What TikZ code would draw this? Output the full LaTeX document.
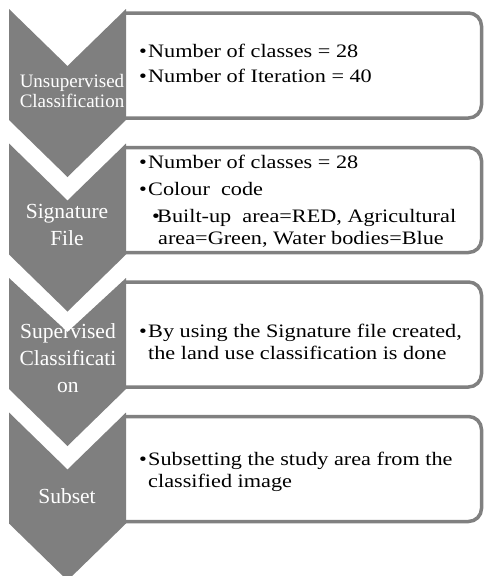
\documentclass[tikz,border=0pt]{standalone}
\usepackage{fontspec}
\setmainfont{Liberation Serif}
\newfontfamily\widefont[FakeStretch=1.17]{Liberation Serif}
\definecolor{chevgray}{RGB}{127,127,127}
\definecolor{framegray}{RGB}{128,128,128}

\begin{document}
\begin{tikzpicture}[x=1pt, y=-1pt,
    chev/.style={fill=chevgray},
    panel/.style={draw=framegray, fill=white, line width=3.5pt, rounded corners=13pt},
    chevtext/.style={text=white, align=center, inner sep=0pt, anchor=north},
    boxtext/.style={anchor=north west, inner sep=0pt, align=left, font=\widefont\fontsize{19}{22}\selectfont},
  ]
    \useasboundingbox (0,0) rectangle (484,576);

    % Panels (right side rounded, left end under the chevrons)
    \draw[panel] (124,13) -- (481.5,13) -- (481.5,118) -- (124,118);
    \draw[panel] (124,147.5) -- (481.5,147.5) -- (481.5,252.5) -- (124,252.5);
    \draw[panel] (124,282) -- (481.5,282) -- (481.5,387) -- (124,387);
    \draw[panel] (124,416.5) -- (481.5,416.5) -- (481.5,521.5) -- (124,521.5);

    % Chevrons
    \fill[chev] (9,9) -- (67.5,66) -- (126,9) -- (126,120) -- (67.5,177) -- (9,120) -- cycle;
    \fill[chev] (9,143.5) -- (67.5,200.5) -- (126,143.5) -- (126,254.5) -- (67.5,311.5) -- (9,254.5) -- cycle;
    \fill[chev] (9,278) -- (67.5,332) -- (126,278) -- (126,389) -- (67.5,446) -- (9,389) -- cycle;
    \fill[chev] (9,412.5) -- (67.5,469.5) -- (126,412.5) -- (126,523.5) -- (67.5,580.5) -- (9,523.5) -- cycle;

    % Step names
    \node[chevtext, font=\fontsize{19}{20}\selectfont] (c1) at (72,74) {Unsupervised\\Classification};
    \node[chevtext, font=\fontsize{21.5}{27}\selectfont] (c2) at (67,204) {Signature\\File};
    \node[chevtext, font=\fontsize{21.5}{27}\selectfont] (c3) at (68,323) {Supervised\\Classificati\\on};
    \node[chevtext, font=\fontsize{21.5}{25}\selectfont] (c4) at (67,488) {Subset};

    % Step details
    \node[boxtext] (t1) at (139,44) {\makebox[9pt][l]{\textbullet}Number of classes = 28\\[3pt]\makebox[9pt][l]{\textbullet}Number of Iteration = 40};
    \node[boxtext] (t2) at (139,155) {\makebox[9pt][l]{\textbullet}Number of classes = 28\\[5pt]\makebox[9pt][l]{\textbullet}Colour\ \ code\\[5pt]\hspace*{13pt}\makebox[5pt][l]{\textbullet}Built-up\ \ area=RED, Agricultural\\\hspace*{19pt}area=Green, Water bodies=Blue};
    \node[boxtext] (t3) at (139,324) {\makebox[9pt][l]{\textbullet}By using the Signature file created,\\\hspace*{9pt}the land use classification is done};
    \node[boxtext] (t4) at (139,452) {\makebox[9pt][l]{\textbullet}Subsetting the study area from the\\\hspace*{9pt}classified image};

  \end{tikzpicture}
\end{document}
